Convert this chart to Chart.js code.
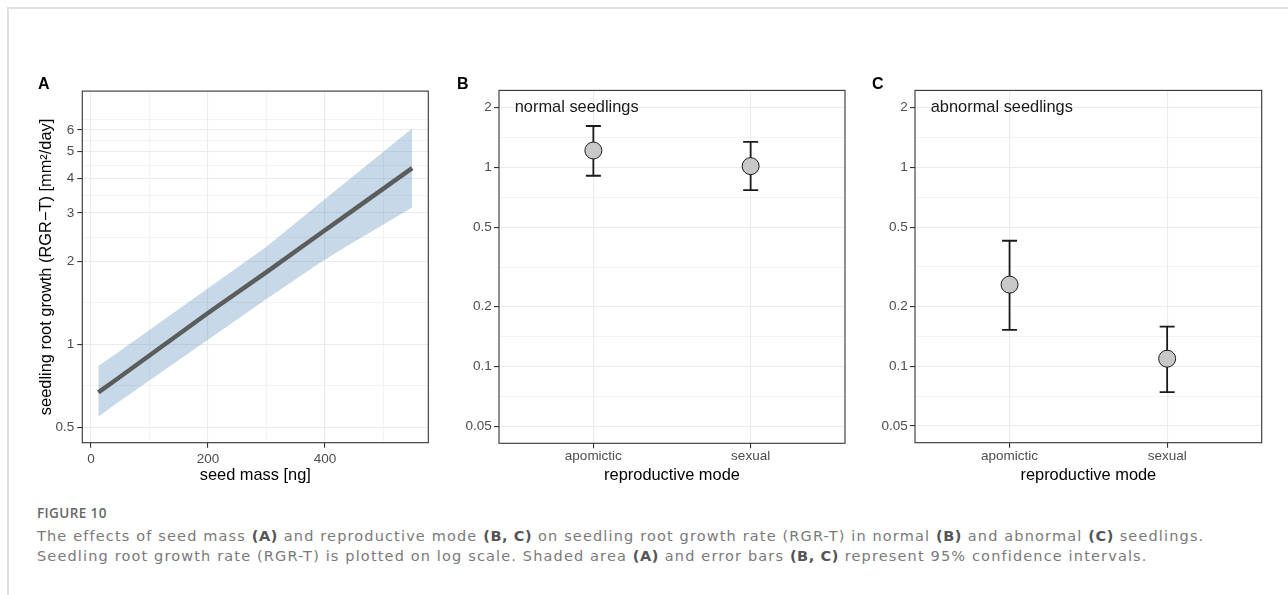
<!DOCTYPE html>
<html>
<head>
<meta charset="utf-8">
<script src="https://cdn.jsdelivr.net/npm/chart.js@4.4.1/dist/chart.umd.min.js"></script>
<style>
  html, body { margin: 0; padding: 0; background: #fff; }
  #page { position: relative; width: 1288px; height: 595px; overflow: hidden; font-family: "Liberation Sans", Arial, sans-serif; }
  #card { position: absolute; left: 7px; top: 7px; right: -4px; bottom: -4px; border-top: 2px solid #e0e0e0; border-left: 2px solid #e0e0e0; }
  canvas { position: absolute; }
  .tag { position: absolute; font-weight: bold; font-size: 16px; line-height: 16px; color: #000; }
  #figno { position: absolute; left: 37px; top: 505px; font-family: "Open Sans", sans-serif; font-weight: 600; font-size: 13.5px; letter-spacing: 0.4px; line-height: 16px; color: #666; }
  #caption { position: absolute; left: 37px; top: 527px; width: 1245px; font-family: "DejaVu Sans", sans-serif; font-size: 14.5px; letter-spacing: 1.15px; line-height: 19.5px; color: #7a7a7a; white-space: nowrap; }
  #caption b { color: #555; font-weight: 700; letter-spacing: 0.6px; }
</style>
</head>
<body>
<div id="page">
  <div id="card"></div>
  <canvas id="chartA" width="440" height="410" style="left:0px; top:80px;"></canvas>
  <canvas id="chartB" width="420" height="410" style="left:440px; top:80px;"></canvas>
  <canvas id="chartC" width="428" height="410" style="left:860px; top:80px;"></canvas>
  <div class="tag" style="left:38px; top:76px;">A</div>
  <div class="tag" style="left:457px; top:76px;">B</div>
  <div class="tag" style="left:872px; top:76px;">C</div>
  <div id="figno">FIGURE 10</div>
  <div id="caption">The effects of seed mass <b>(A)</b> and reproductive mode <b>(B, C)</b> on seedling root growth rate (RGR-T) in normal <b>(B)</b> and abnormal <b>(C)</b> seedlings.<br>Seedling root growth rate (RGR-T) is plotted on log scale. Shaded area <b>(A)</b> and error bars <b>(B, C)</b> represent 95% confidence intervals.</div>
</div>
<script>
// panel A: seed mass vs root growth (fit + 95% band)
const seedMass = [12.5, 41, 200, 300, 391.5, 437, 549];
const fitRate = [0.67, 0.74, 1.30, 1.83, 2.52, 2.95, 4.36];
const lowerRate = [0.547, 0.606, 1.04, 1.46, 1.98, 2.27, 3.14];
const upperRate = [0.835, 0.92, 1.60, 2.26, 3.26, 3.90, 6.07];
const massTicks = [0, 200, 400];
const massMinor = [100, 300, 500];
const rateTicksA = [0.5, 1, 2, 3, 4, 5, 6];
const rateMinorA = [0.707, 1.414, 2.449, 3.464, 4.472, 5.477, 6.573];

// panels B, C: reproductive mode
const modes = ["apomictic", "sexual"];
const normalMean = [1.216, 1.015];
const normalLow = [0.908, 0.77];
const normalHigh = [1.614, 1.343];
const abnormalMean = [0.257, 0.109];
const abnormalLow = [0.152, 0.074];
const abnormalHigh = [0.427, 0.158];
const rateTicksBC = [0.05, 0.1, 0.2, 0.5, 1, 2];
const rateMinorBC = [0.0707, 0.1414, 0.3162, 0.7071, 1.4142];

const FONT = "'Liberation Sans', Arial, sans-serif";
const tickFont = { family: FONT, size: 13.5 };
const titleFont = { family: FONT, size: 16.4 };
const GRID = "#ebebeb";
const TICKCOL = "#333333";
const NONE = "rgba(0,0,0,0)";

function gridFor(majors) {
  const isMajor = c => c.tick && majors.includes(c.tick.value);
  return {
    color: GRID,
    lineWidth: c => isMajor(c) ? 1.1 : 0.6,
    tickLength: 5,
    tickWidth: 1.1,
    tickColor: c => isMajor(c) ? TICKCOL : NONE
  };
}

function axis(type, min, max, majors, minors, extra) {
  return Object.assign({
    type: type,
    min: min,
    max: max,
    bounds: "data",
    afterBuildTicks: s => {
      s.ticks = majors.concat(minors).sort((a, b) => a - b).map(v => ({ value: v }));
    },
    ticks: {
      autoSkip: false,
      maxRotation: 0,
      color: "#4d4d4d",
      font: tickFont,
      callback: v => majors.includes(v) ? String(v) : ""
    },
    grid: gridFor(majors),
    border: { display: false }
  }, extra);
}

const frame = {
  id: "frame",
  afterDraw(chart) {
    const a = chart.chartArea, ctx = chart.ctx;
    ctx.save();
    ctx.strokeStyle = "#333333";
    ctx.lineWidth = 1.1;
    ctx.strokeRect(a.left, a.top, a.right - a.left, a.bottom - a.top);
    ctx.restore();
  }
};

const errorBars = {
  id: "errorBars",
  beforeDatasetsDraw(chart, args, opts) {
    if (!opts.low) return;
    const { ctx, scales: { x, y } } = chart;
    ctx.save();
    ctx.strokeStyle = "#1a1a1a";
    ctx.lineWidth = 1.8;
    opts.low.forEach((lo, i) => {
      const px = x.getPixelForValue(i + 1);
      const y1 = y.getPixelForValue(lo);
      const y2 = y.getPixelForValue(opts.high[i]);
      ctx.beginPath();
      ctx.moveTo(px, y1); ctx.lineTo(px, y2);
      ctx.moveTo(px - 7.5, y1); ctx.lineTo(px + 7.5, y1);
      ctx.moveTo(px - 7.5, y2); ctx.lineTo(px + 7.5, y2);
      ctx.stroke();
    });
    ctx.restore();
  }
};

const note = {
  id: "note",
  afterDatasetsDraw(chart, args, opts) {
    if (!opts.text) return;
    const { ctx, scales: { x, y } } = chart;
    ctx.save();
    ctx.fillStyle = "#1a1a1a";
    ctx.font = "16.4px " + FONT;
    ctx.textAlign = "left";
    ctx.textBaseline = "middle";
    ctx.fillText(opts.text, x.getPixelForValue(opts.x), y.getPixelForValue(opts.y));
    ctx.restore();
  }
};

const common = {
  responsive: false,
  animation: false,
  events: []
};

// fit line first so it is drawn on top of the band
new Chart(document.getElementById("chartA"), {
  type: "line",
  data: {
    datasets: [
      {
        data: seedMass.map((m, i) => ({ x: m, y: fitRate[i] })),
        borderColor: "#5c5c5c",
        borderWidth: 4.5,
        pointRadius: 0,
        fill: false
      },
      {
        data: seedMass.map((m, i) => ({ x: m, y: upperRate[i] })),
        borderWidth: 0,
        pointRadius: 0,
        backgroundColor: "rgba(70,130,180,0.3)",
        fill: "+1"
      },
      {
        data: seedMass.map((m, i) => ({ x: m, y: lowerRate[i] })),
        borderWidth: 0,
        pointRadius: 0,
        fill: false
      }
    ]
  },
  options: Object.assign({}, common, {
    layout: { padding: { top: 9, right: 11.7, left: 0, bottom: 0 } },
    plugins: { legend: { display: false }, tooltip: { enabled: false } },
    scales: {
      x: axis("linear", -14.9, 576.6, massTicks, massMinor, {
        afterFit: s => { s.height = 47.3; },
        title: { display: true, text: "seed mass [ng]", color: "#000", font: titleFont, padding: { top: 0, bottom: 4.2 } }
      }),
      y: axis("logarithmic", 0.44, 8.3, rateTicksA, rateMinorA, {
        afterFit: s => { s.width = 82.3; },
        title: { display: true, text: "seedling root growth (RGR\u2212T) [mm\u00b2/day]", color: "#000", font: titleFont, padding: { top: 36.9, bottom: 0 } }
      })
    }
  }),
  plugins: [frame]
});

function modeChart(id, mean, low, high, label, pad, yWidth, xHeight) {
  const opts = Object.assign({}, common, {
    layout: { padding: { top: 9, right: pad, left: 0, bottom: 0 } },
    plugins: {
      legend: { display: false },
      tooltip: { enabled: false },
      errorBars: { low: low, high: high },
      note: { text: label, x: 0.5, y: 2 }
    },
    scales: {
      x: axis("linear", 0.4, 2.6, [1, 2], [], {
        afterFit: s => { s.height = xHeight; },
        title: { display: true, text: "reproductive mode", color: "#000", font: titleFont, padding: { top: 0, bottom: 5 } }
      }),
      y: axis("logarithmic", 0.0412, 2.436, rateTicksBC, rateMinorBC, {
        afterFit: s => { s.width = yWidth; }
      })
    }
  });
  opts.scales.x.ticks.callback = v => modes[v - 1] || "";
  opts.scales.x.ticks.padding = 0;
  opts.scales.y.ticks.padding = 2.3;
  new Chart(document.getElementById(id), {
    type: "scatter",
    data: {
      datasets: [{
        data: modes.map((m, i) => ({ x: i + 1, y: mean[i] })),
        pointRadius: 8.5,
        pointBorderWidth: 1,
        pointBackgroundColor: "#c8c8c8",
        pointBorderColor: "#1a1a1a"
      }]
    },
    options: opts,
    plugins: [errorBars, note, frame]
  });
}

modeChart("chartB", normalMean, normalLow, normalHigh, "normal seedlings", 15, 59, 46.7);
modeChart("chartC", abnormalMean, abnormalLow, abnormalHigh, "abnormal seedlings", 26.3, 55, 47.3);
</script>
</body>
</html>
